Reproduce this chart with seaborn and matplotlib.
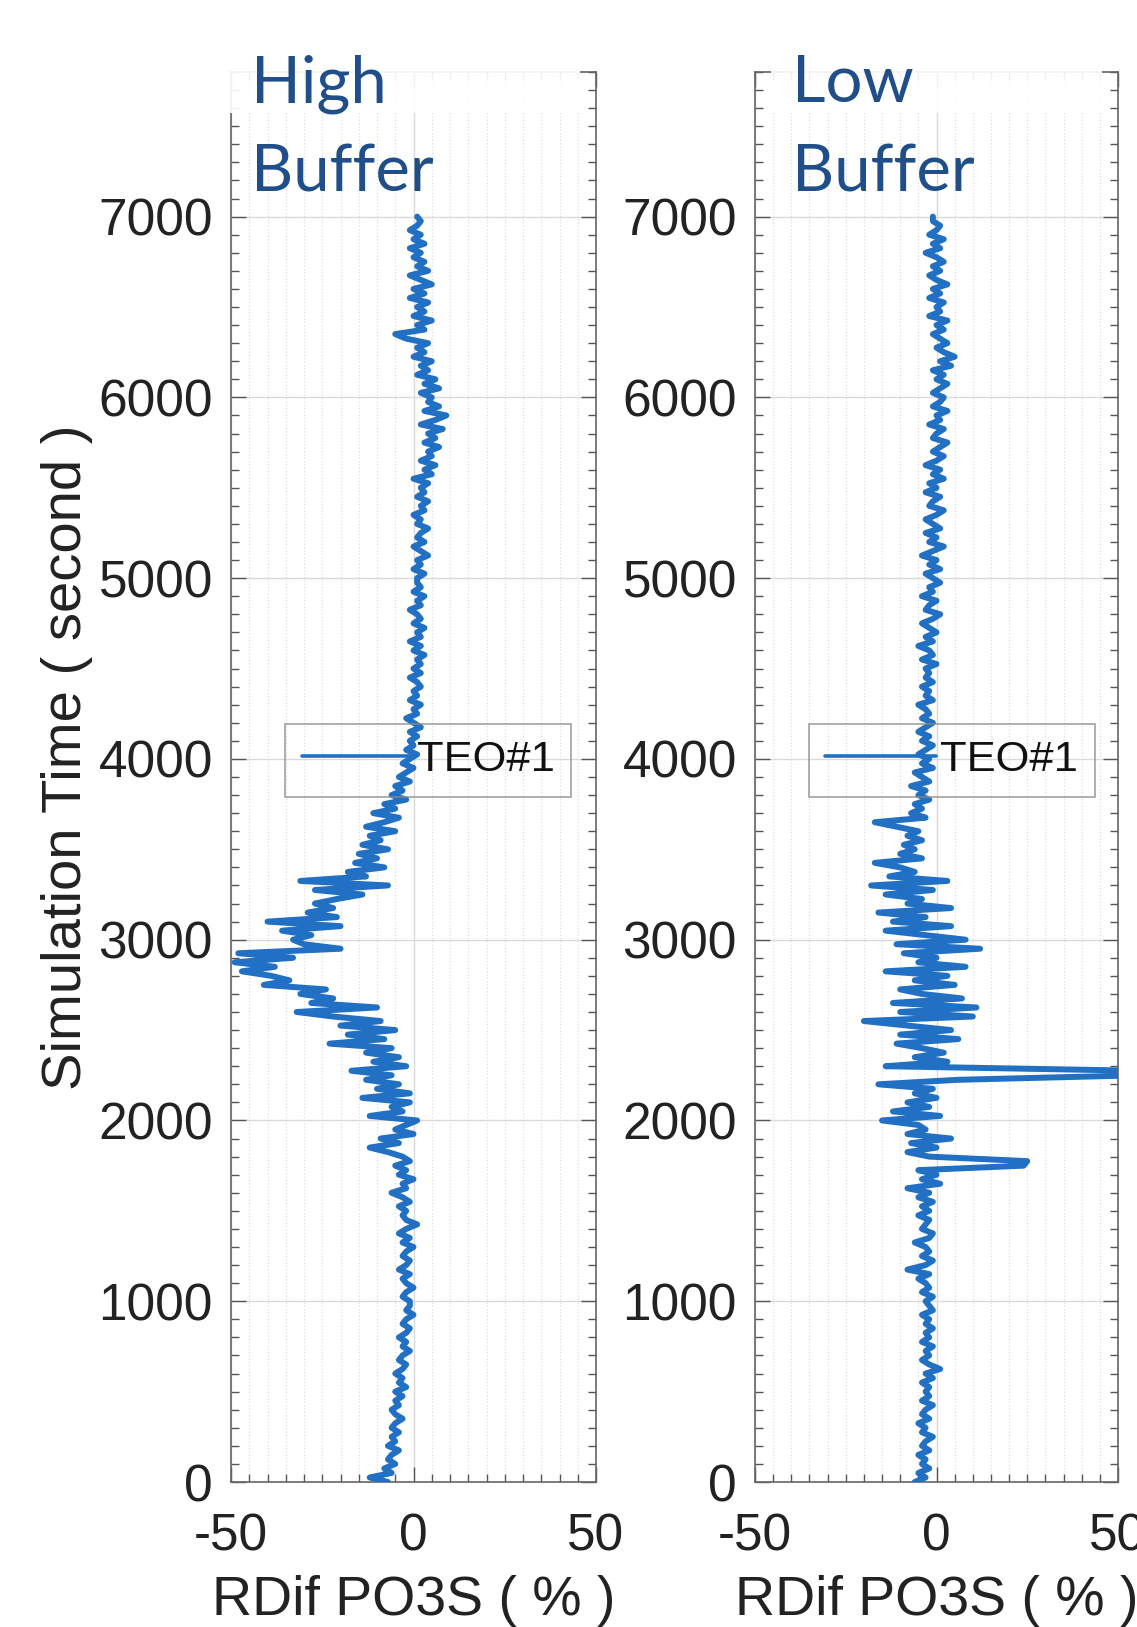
import numpy as np
import pandas as pd
import matplotlib
matplotlib.use("Agg")
import matplotlib.pyplot as plt
import seaborn as sns
from matplotlib.ticker import MultipleLocator, FixedLocator
from matplotlib.patches import Rectangle

# ---------------- data ----------------
time_step = 25  # seconds between samples, 0 .. 7000
high_buffer_rdif = [
    -7, -12, -6, -8, -5, -7, -6, -4, -7, -5, -6, -4, -6, -5, -3, -5, -6, -4, -5, -3,
    -5, -2, -4, -3, -5, -3, -2, -4, -3, -1, -3, -2, -4, -2, -1, -3, -2, 0, -2, -1,
    -1, -3, -2, 0, -2, -3, -1, -4, -2, -1, -3, -2, 0, -3, -1, -4, -2, 1, -2, -3,
    -2, -4, -1, -3, -6, -2, -3, 0, -4, -2, -5, -1, -3, -7, -12, -4, -9, 0, -5, -2,
    1, -12, -3, -6, -1, -14, -1, -10, -4, -13, -6, -17, -2, -11, -4, -13, -6, -23, -8, -18,
    -5, -20, -9, -22, -32, -10, -28, -22, -31, -24, -41, -34, -39, -47, -38, -49, -33, -48, -20, -30,
    -33, -28, -36, -20, -40, -21, -29, -22, -27, -21, -14, -27, -7, -31, -13, -18, -8, -16, -10, -15,
    -7, -14, -9, -12, -5, -13, -8, -4, -11, -5, -8, -2, -6, -3, -5, -1, -4, -2, 0, -3,
    -1, 1, -2, 0, -1, 1, -1, 2, 0, -2, 1, 0, 2, -1, 1, 0, 2, 1, -1, 2,
    0, 2, 1, 3, 0, 2, -1, 2, 1, 3, 0, 2, 1, -1, 2, 1, 3, 0, 2, 1,
    1, 3, 0, 2, 1, 4, 2, 0, 3, 1, 2, 4, 1, 2, 0, 3, 2, 4, 1, 3,
    2, 4, 0, 5, 3, 6, 2, 5, 4, 7, 3, 6, 4, 8, 2, 6, 9, 3, 7, 4,
    5, 2, 7, 3, 6, 1, 4, 2, 5, 0, 3, 1, 4, -2, -5, 3, 1, 5, 0, 3,
    1, 4, -1, 3, 0, 5, 2, -1, 4, 1, 3, 0, 2, -1, 3, 0, 2, -1, 1, 2,
    1,
]
low_buffer_rdif = [
    -6, -3, -5, -2, -4, -3, -5, -2, -4, -3, -1, -4, -3, -5, -2, -4, -3, -1, -4, -2,
    -3, -2, -4, -1, -3, 1, -2, -4, -2, -3, -1, -4, -2, -3, -1, -3, -2, -4, -1, -2,
    -3, -1, -4, -2, -3, -5, -2, -8, -3, -1, -4, -2, -3, -6, -2, -1, -4, -3, -2, -5,
    -2, -4, -1, -5, -2, -8, 1, -4, 0, -5, 24, 25, -2, -8, 0, -7, 4, -8, -3, -5,
    -15, 1, -12, -2, -8, 0, -6, -1, -16, 6, 56, 56, -14, 3, -6, 2, -4, -11, 6, -10,
    4, -8, -20, 10, -10, 11, -12, 7, -4, -10, 5, -6, 3, -14, 8, -5, 0, -9, 12, -11,
    8, -3, -14, 4, -12, -3, -16, 4, -8, -4, -14, -1, -18, 3, -13, -6, -10, -17, -4, -10,
    -6, -9, -4, -8, -5, -11, -17, -3, -7, -4, -6, -2, -5, -3, -7, -2, -4, -6, -1, -4,
    -2, -5, -3, -1, -4, -2, -5, -3, -1, -4, -2, -3, -5, -1, -3, -2, -4, -1, -3, -2,
    -3, 0, -4, -1, -2, -5, -1, -3, 0, -2, -4, -1, 1, -3, -2, 0, -4, -1, -2, 1,
    -1, -3, 1, -2, 0, -4, -1, 2, -2, 0, -3, 1, -1, -3, 0, 2, -2, -1, 1, -3,
    0, -2, 2, -1, 1, -3, 0, 2, -1, 1, 3, -1, 0, 2, -2, 1, 0, 3, -1, 1,
    2, -1, 1, 3, 0, 2, -1, 4, 1, 5, 2, 0, 3, 1, -1, 2, 0, 3, -2, 1,
    0, 2, -2, 1, -1, 3, 0, -2, 1, -1, 2, 0, -3, 1, -1, 2, -2, 0, 1, -1,
    -1,
]
panel_titles = [["High", "Buffer"], ["Low", "Buffer"]]
legend_label = "TEO#1"
x_label = "RDif PO3S ( % )"
y_label = "Simulation Time ( second )"
x_ticks = [-50, 0, 50]
y_ticks = [0, 1000, 2000, 3000, 4000, 5000, 6000, 7000]

# ---------------- style ----------------
sns.set_theme(style="white")
plt.rcParams["font.family"] = ["Liberation Sans", "DejaVu Sans"]
plt.rcParams["axes.unicode_minus"] = False

W, H = 1137, 1627
fig = plt.figure(figsize=(W / 100, H / 100), dpi=100)

line_color = "#2270c3"
title_color = "#1f4e89"
spine_color = "#666666"

panels = [
    dict(rdif=high_buffer_rdif, left=231, right=596, title_x=251),
    dict(rdif=low_buffer_rdif, left=755, right=1118, title_x=792),
]
ax_top, ax_bottom = 72, 1482

times = np.arange(0, 7000 + time_step, time_step)

for i, p in enumerate(panels):
    ax = fig.add_axes([p["left"] / W, 1 - ax_bottom / H,
                       (p["right"] - p["left"]) / W, (ax_bottom - ax_top) / H])
    df = pd.DataFrame({"rdif": p["rdif"], "time": times})
    sns.lineplot(data=df, x="rdif", y="time", orient="y", sort=False,
                 estimator=None, ax=ax, color=line_color, lw=4.3,
                 label=legend_label, zorder=3)
    ax.set_xlim(-50, 50)
    ax.set_ylim(0, 7800)
    ax.xaxis.set_major_locator(FixedLocator(x_ticks))
    ax.yaxis.set_major_locator(FixedLocator(y_ticks))
    ax.xaxis.set_minor_locator(MultipleLocator(5))
    ax.yaxis.set_minor_locator(MultipleLocator(100))
    ax.grid(which="major", color="#dadada", lw=1.0, ls="-", zorder=0)
    ax.grid(which="minor", axis="x", color="#dedede", lw=0.9, ls=":", zorder=0)
    ax.set_axisbelow(True)
    ax.tick_params(which="both", direction="in", top=True, right=True,
                   bottom=True, left=True, color="#555555", width=1.0)
    ax.tick_params(which="major", length=11)
    ax.tick_params(which="minor", length=5.5)
    ax.tick_params(axis="x", which="major", labelsize=37, pad=22, labelcolor="#222222")
    ax.tick_params(axis="y", which="major", labelsize=37, pad=13, labelcolor="#222222")
    for s in ax.spines.values():
        s.set_visible(True)
        s.set_color(spine_color)
        s.set_linewidth(1.2)
    ax.set_xlabel(x_label, fontsize=40, color="#222222")
    ax.xaxis.set_label_coords(0.5, -0.066)
    if i == 0:
        ax.set_ylabel(y_label, fontsize=40.5, color="#222222")
        ax.yaxis.set_label_coords(-0.378, 0.514)
    else:
        ax.set_ylabel("")
    leg = ax.legend(loc="center left", bbox_to_anchor=(0.148, 0.512),
                    fontsize=31.3, frameon=True, fancybox=False,
                    handlelength=2.55, handletextpad=0.1, borderpad=0.38,
                    borderaxespad=0)
    leg.get_frame().set_facecolor("none")
    leg.get_frame().set_edgecolor("#8a8a8a")
    leg.get_frame().set_linewidth(1.2)
    for h in leg.get_lines():
        h.set_linewidth(2.6)
    for t in leg.get_texts():
        t.set_color("#111111")

    # white overlay box behind the panel title (covers the top strip of the plot)
    box_l = p["left"] - 6 if i == 0 else p["left"] + 16
    box_r = p["right"] - 16
    fig.patches.append(Rectangle((box_l / W, 1 - 113 / H), (box_r - box_l) / W, 60 / H,
                                 transform=fig.transFigure, facecolor="white",
                                 edgecolor="none", alpha=0.92, zorder=5))
    fig.text(p["title_x"] / W, 1 - 102 / H, panel_titles[i][0], fontsize=47,
             family=["Lato", "DejaVu Sans"], color=title_color, va="baseline",
             ha="left", zorder=6)
    fig.text(p["title_x"] / W, 1 - 192 / H, panel_titles[i][1], fontsize=47,
             family=["Lato", "DejaVu Sans"], color=title_color, va="baseline",
             ha="left", zorder=6)

fig.savefig("out.png", dpi=100)
